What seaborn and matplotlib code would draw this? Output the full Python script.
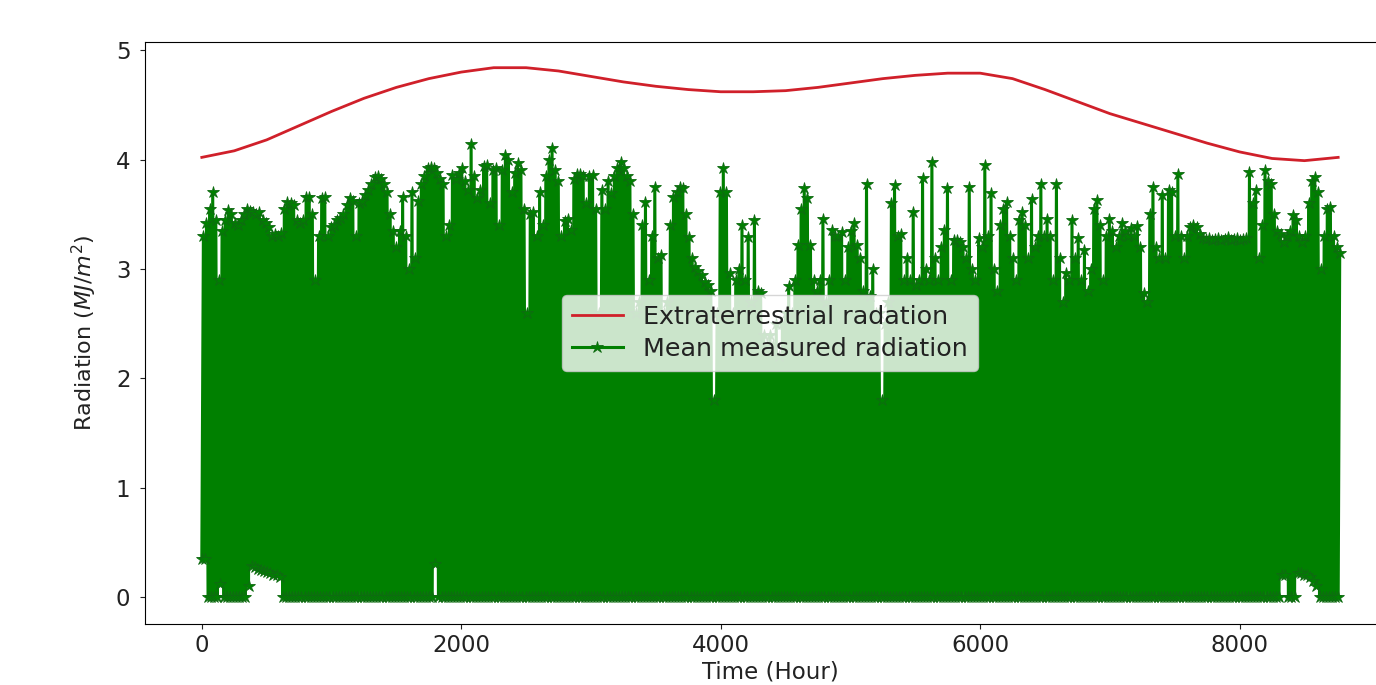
import pandas as pd
import seaborn as sns
import matplotlib.pyplot as plt

extra_hours = [0, 250, 500, 750, 1000, 1250, 1500, 1750, 2000, 2250, 2500, 2750, 3000, 3250, 3500, 3750,
               4000, 4250, 4500, 4750, 5000, 5250, 5500, 5750, 6000, 6250, 6500, 6750, 7000, 7250, 7500,
               7750, 8000, 8250, 8500, 8760]
extra_values = [4.02, 4.08, 4.18, 4.31, 4.44, 4.56, 4.66, 4.74, 4.80, 4.84, 4.84, 4.81, 4.76, 4.71, 4.67, 4.64,
                4.62, 4.62, 4.63, 4.66, 4.70, 4.74, 4.77, 4.79, 4.79, 4.74, 4.64, 4.53, 4.42, 4.33, 4.24,
                4.15, 4.07, 4.01, 3.99, 4.02]

# top of the green band for each day of the year
day_peaks = [
    3.30, 3.42, 3.55, 3.70, 3.45, 2.90, 3.35, 3.45, 3.54, 3.50, 3.42, 3.40, 3.45, 3.50, 3.55, 3.53, 3.52, 3.50, 3.52, 3.45,
    3.42, 3.38, 3.30, 3.32, 3.30, 3.33, 3.55, 3.61, 3.60, 3.58, 3.45, 3.42, 3.45, 3.66, 3.66, 3.50, 2.90, 3.30, 3.65, 3.66,
    3.30, 3.38, 3.40, 3.45, 3.47, 3.50, 3.58, 3.65, 3.62, 3.30, 3.60, 3.62, 3.68, 3.72, 3.78, 3.84, 3.85, 3.82, 3.78, 3.70,
    3.50, 3.35, 3.20, 3.35, 3.66, 3.30, 3.00, 3.70, 3.10, 3.62, 3.78, 3.85, 3.92, 3.93, 3.92, 3.88, 3.82, 3.78, 3.30, 3.40,
    3.86, 3.82, 3.88, 3.92, 3.80, 3.72, 4.14, 3.85, 3.65, 3.72, 3.94, 3.95, 3.60, 3.90, 3.92, 3.40, 3.90, 4.04, 4.00, 3.70,
    3.88, 3.97, 3.90, 3.55, 2.60, 3.50, 3.52, 3.30, 3.70, 3.40, 3.85, 4.00, 4.11, 3.90, 3.80, 3.30, 3.44, 3.46, 3.36, 3.82,
    3.87, 3.87, 3.85, 3.60, 3.85, 3.86, 3.55, 2.60, 3.72, 3.55, 3.80, 3.69, 3.85, 3.92, 3.98, 3.92, 3.85, 3.80, 3.50, 2.60,
    2.70, 3.40, 3.61, 2.90, 3.30, 3.75, 3.10, 3.13, 2.60, 2.70, 3.40, 3.66, 3.70, 3.75, 3.74, 3.50, 3.29, 3.10, 3.02, 2.98,
    2.94, 2.88, 2.85, 2.80, 1.80, 2.60, 3.70, 3.92, 3.70, 2.96, 2.60, 2.90, 3.00, 3.40, 2.90, 3.29, 2.70, 3.45, 2.80, 2.78,
    2.40, 2.30, 2.40, 2.30, 2.50, 2.20, 2.50, 2.60, 2.84, 2.60, 2.90, 3.22, 3.55, 3.74, 3.65, 3.22, 2.90, 2.80, 2.90, 3.46,
    2.70, 2.90, 3.36, 3.30, 3.30, 3.34, 2.90, 3.20, 3.35, 3.42, 3.22, 3.10, 2.80, 3.78, 2.75, 3.00, 2.60, 2.60, 1.80, 2.50,
    2.70, 3.60, 3.77, 3.30, 3.32, 2.90, 3.10, 2.90, 3.52, 2.85, 2.90, 3.83, 3.00, 2.90, 3.98, 3.10, 2.90, 3.20, 3.36, 3.74,
    2.90, 3.26, 3.26, 3.25, 3.20, 3.10, 3.75, 3.00, 2.90, 3.28, 3.20, 3.95, 3.30, 3.69, 3.00, 2.80, 3.40, 3.55, 3.61, 3.30,
    3.10, 2.90, 3.45, 3.52, 3.40, 3.10, 3.64, 3.20, 3.30, 3.78, 3.30, 3.46, 3.30, 2.90, 3.78, 3.10, 2.70, 2.96, 2.90, 3.45,
    3.10, 3.28, 2.90, 3.17, 2.80, 3.00, 3.55, 3.63, 3.40, 2.90, 3.30, 3.46, 3.35, 3.20, 3.30, 3.42, 3.35, 3.30, 3.37, 3.30,
    3.39, 3.20, 2.78, 2.70, 3.50, 3.75, 3.20, 3.10, 3.68, 3.10, 3.72, 3.70, 3.30, 3.87, 3.30, 3.10, 3.30, 3.38, 3.40, 3.38,
    3.32, 3.28, 3.27, 3.28, 3.26, 3.27, 3.28, 3.26, 3.27, 3.29, 3.26, 3.27, 3.28, 3.26, 3.27, 3.28, 3.89, 3.60, 3.72, 3.10,
    3.40, 3.90, 3.80, 3.78, 3.50, 3.35, 3.32, 3.25, 3.30, 3.35, 3.49, 3.45, 3.30, 3.25, 3.30, 3.60, 3.80, 3.84, 3.70, 3.00,
    3.30, 3.55, 3.57, 3.30, 3.20, 3.15,
]

# night values are zero except on these days
raised_days = [0, 1, 6, 15, 16, 17, 18, 19, 20, 21, 22, 23, 24, 25, 75, 347, 348, 352, 353, 354, 355, 356, 357, 358]
raised_values = [0.35, 0.35, 0.12, 0.10, 0.28, 0.27, 0.26, 0.25, 0.24, 0.23, 0.22, 0.20, 0.20, 0.18, 0.30,
                 0.20, 0.20, 0.22, 0.22, 0.20, 0.20, 0.18, 0.15, 0.10]

tick_x = [0, 2000, 4000, 6000, 8000]
tick_y = [0, 1, 2, 3, 4, 5]

floors = dict(zip(raised_days, raised_values))
hours = []
radiation = []
for day, peak in enumerate(day_peaks):
    hours += [24 * day, 24 * day + 12]
    radiation += [floors.get(day, 0), peak]
df_mean = pd.DataFrame({'hour': hours, 'radiation': radiation})
df_extra = pd.DataFrame({'hour': extra_hours, 'radiation': extra_values})

fig = plt.figure(figsize=(13.76, 6.85), dpi=100)
ax = fig.add_axes([145 / 1376, 61 / 685, 1250 / 1376, 582 / 685])

sns.lineplot(data=df_extra, x='hour', y='radiation', color='#d0202a', linewidth=2,
             label='Extraterrestrial radation', ax=ax)
sns.lineplot(data=df_mean, x='hour', y='radiation', color='green', linewidth=2.2, marker='*', markersize=9,
             markeredgecolor='#0f6a12', markeredgewidth=0.6, estimator=None, sort=False,
             label='Mean measured radiation', ax=ax)

ax.set_xlim(-438, 9198)
ax.set_ylim(-0.247, 5.075)
ax.set_xticks(tick_x)
ax.set_yticks(tick_y)
ax.tick_params(labelsize=16.5, colors='#222222')
ax.tick_params(axis='y', pad=7)
ax.set_xlabel('Time (Hour)', fontsize=16.5, color='#222222', labelpad=3)
ax.set_ylabel('Radiation ($MJ/m^2$)', fontsize=16, color='#222222', labelpad=12)
ax.legend(loc='center', fontsize=18.3, labelspacing=0.3, labelcolor='#222222')

plt.savefig('out.png', dpi=100)
plt.close()
